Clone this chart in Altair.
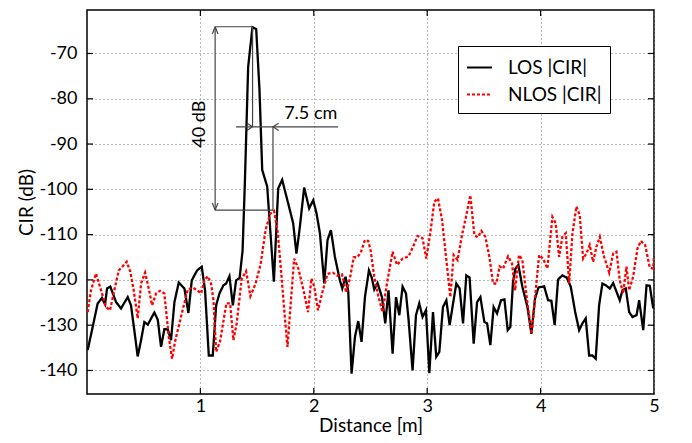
import altair as alt
import pandas as pd

# ---------------- data ----------------
series_names = ["LOS |CIR|", "NLOS |CIR|"]
series_colors = ["black", "red"]

los_d = [0.006, 0.050, 0.094, 0.132, 0.159, 0.177, 0.206, 0.256, 0.300, 0.359, 0.388, 0.417,
         0.447, 0.477, 0.506, 0.536, 0.594, 0.624, 0.653, 0.682, 0.712, 0.741, 0.771, 0.809,
         0.859, 0.894, 0.924, 0.971, 1.012, 1.041, 1.074, 1.109, 1.139, 1.168, 1.203, 1.227,
         1.256, 1.286, 1.315, 1.346, 1.372, 1.392, 1.421, 1.459, 1.492, 1.521, 1.545, 1.589,
         1.618, 1.648, 1.686, 1.721, 1.774, 1.818, 1.847, 1.877, 1.915, 1.959, 1.995, 2.024,
         2.054, 2.092, 2.121, 2.151, 2.186, 2.230, 2.251, 2.280, 2.304, 2.333, 2.363, 2.392,
         2.421, 2.451, 2.486, 2.511, 2.533, 2.562, 2.601, 2.630, 2.659, 2.695, 2.725, 2.754,
         2.783, 2.813, 2.836, 2.871, 2.901, 2.930, 2.959, 2.989, 3.019, 3.051, 3.080, 3.107,
         3.139, 3.169, 3.198, 3.228, 3.257, 3.286, 3.316, 3.345, 3.374, 3.410, 3.440, 3.469,
         3.504, 3.528, 3.557, 3.586, 3.616, 3.651, 3.681, 3.710, 3.733, 3.757, 3.778, 3.804,
         3.839, 3.884, 3.919, 3.951, 3.981, 4.031, 4.066, 4.095, 4.124, 4.154, 4.192, 4.230,
         4.266, 4.305, 4.340, 4.369, 4.398, 4.428, 4.457, 4.486, 4.516, 4.545, 4.575, 4.610,
         4.640, 4.669, 4.698, 4.722, 4.751, 4.781, 4.810, 4.846, 4.869, 4.905, 4.934, 4.963,
         4.993]
los_v = [-135.5, -130.4, -125.2, -124.0, -125.4, -121.9, -121.5, -124.9, -126.3, -123.8, -125.6, -131.1,
         -136.9, -133.3, -129.3, -129.9, -127.2, -128.8, -134.8, -130.9, -130.9, -133.3, -124.9, -120.6,
         -121.9, -127.3, -120.1, -117.9, -117.1, -122.3, -136.7, -136.7, -125.6, -123.0, -121.2, -120.8,
         -119.2, -125.6, -120.1, -119.6, -113.5, -98.7, -73.0, -64.2, -64.6, -78.0, -95.7, -99.4,
         -109.7, -120.4, -99.8, -97.9, -103.1, -107.5, -114.2, -108.3, -99.6, -104.2, -102.4, -105.3,
         -109.7, -120.8, -111.2, -109.0, -114.9, -120.1, -121.9, -119.3, -122.6, -140.7, -132.6, -129.1,
         -133.7, -123.8, -117.9, -119.5, -122.1, -120.7, -123.8, -129.6, -122.3, -136.3, -123.8, -127.8,
         -121.5, -123.0, -128.9, -140.0, -127.8, -125.2, -128.2, -126.7, -140.6, -127.1, -137.0, -135.9,
         -126.0, -124.5, -130.0, -125.2, -120.8, -121.9, -129.6, -119.0, -119.5, -134.1, -124.9, -123.8,
         -129.3, -129.6, -134.4, -126.0, -127.4, -124.5, -124.3, -131.1, -130.4, -120.4, -117.5, -116.7,
         -121.5, -126.0, -131.9, -124.1, -121.7, -121.4, -124.5, -124.6, -130.0, -119.9, -119.0, -119.5,
         -121.5, -127.1, -131.1, -129.6, -128.5, -136.7, -136.7, -137.4, -125.6, -120.8, -121.2, -121.9,
         -120.7, -122.6, -124.5, -122.3, -121.9, -127.1, -128.2, -127.8, -124.5, -131.1, -121.2, -121.3,
         -126.3]

nlos_d = [0.006, 0.035, 0.079, 0.124, 0.168, 0.203, 0.241, 0.280, 0.315, 0.350, 0.382, 0.412,
          0.447, 0.477, 0.512, 0.541, 0.574, 0.609, 0.644, 0.682, 0.721, 0.750, 0.779, 0.815,
          0.850, 0.889, 0.933, 0.971, 1.006, 1.035, 1.065, 1.094, 1.115, 1.139, 1.174, 1.229,
          1.262, 1.291, 1.320, 1.364, 1.403, 1.441, 1.487, 1.531, 1.575, 1.615, 1.650, 1.683,
          1.717, 1.743, 1.768, 1.792, 1.827, 1.864, 1.912, 1.949, 1.979, 2.004, 2.037, 2.080,
          2.121, 2.168, 2.209, 2.249, 2.286, 2.320, 2.352, 2.383, 2.414, 2.451, 2.480, 2.502,
          2.533, 2.571, 2.606, 2.645, 2.695, 2.734, 2.783, 2.836, 2.875, 2.915, 2.959, 2.992,
          3.027, 3.063, 3.095, 3.131, 3.166, 3.204, 3.233, 3.268, 3.307, 3.342, 3.380, 3.416,
          3.445, 3.478, 3.513, 3.548, 3.581, 3.610, 3.639, 3.669, 3.713, 3.748, 3.775, 3.810,
          3.839, 3.884, 3.921, 3.957, 3.987, 4.022, 4.060, 4.104, 4.133, 4.163, 4.192, 4.222,
          4.252, 4.281, 4.316, 4.345, 4.375, 4.404, 4.433, 4.463, 4.492, 4.522, 4.560, 4.605,
          4.640, 4.669, 4.698, 4.728, 4.757, 4.781, 4.816, 4.854, 4.884, 4.922, 4.963, 4.993,
          5.000]
nlos_v = [-127.1, -122.3, -118.6, -122.3, -126.0, -126.7, -122.3, -117.9, -117.0, -116.0, -118.2, -122.3,
          -128.5, -120.8, -118.4, -121.5, -125.6, -123.0, -122.4, -123.0, -132.6, -137.4, -133.3, -129.6,
          -126.0, -122.1, -121.7, -122.3, -123.0, -120.1, -119.2, -120.8, -124.5, -135.9, -133.5, -125.2,
          -125.2, -133.3, -129.6, -119.8, -118.1, -123.6, -120.8, -116.5, -109.0, -105.4, -104.8, -109.7,
          -119.7, -127.8, -134.8, -126.7, -115.3, -117.5, -122.6, -127.1, -119.7, -121.5, -126.7, -122.3,
          -118.7, -118.4, -119.1, -118.8, -122.8, -119.5, -115.0, -115.0, -114.0, -111.2, -111.4, -113.6,
          -119.3, -123.8, -127.1, -120.8, -113.8, -116.7, -115.3, -114.8, -112.7, -110.3, -110.8, -115.3,
          -109.7, -102.7, -102.0, -106.8, -114.9, -123.8, -114.5, -115.6, -110.1, -106.1, -101.3, -110.1,
          -110.6, -109.2, -110.5, -114.9, -120.8, -120.8, -117.0, -117.5, -114.8, -116.4, -122.3, -114.5,
          -115.6, -125.2, -131.9, -122.3, -114.5, -115.3, -117.5, -106.1, -107.5, -114.9, -110.5, -109.7,
          -120.8, -109.7, -103.8, -105.7, -115.3, -114.2, -112.3, -116.0, -112.7, -110.5, -114.9, -118.4,
          -114.2, -113.8, -120.1, -123.0, -117.1, -122.3, -119.3, -113.1, -111.4, -112.3, -117.3, -117.5,
          -114.8]

x_ticks = [1, 2, 3, 4, 5]
y_ticks = [-140, -130, -120, -110, -100, -90, -80, -70]
x_domain = [0, 5]
y_domain = [-145.2, -60.4]

# annotation segments (dimension lines and arrowheads) in data units
ann_x1 = [1.13, 1.13, 1.13, 1.315, 1.46, 1.64, 1.105, 1.155, 1.105, 1.155, 1.41, 1.41, 1.69, 1.69]
ann_x2 = [1.13, 1.465, 1.64, 2.215, 1.46, 1.64, 1.13, 1.13, 1.13, 1.13, 1.46, 1.46, 1.64, 1.64]
ann_y1 = [-64.1, -64.1, -104.6, -86.2, -64.1, -86.2, -65.7, -65.7, -103.0, -103.0, -85.4, -87.0, -85.4, -87.0]
ann_y2 = [-104.6, -64.1, -104.6, -86.2, -86.2, -104.6, -64.1, -64.1, -104.6, -104.6, -86.2, -86.2, -86.2, -86.2]

label_text = ["40 dB", "7.5 cm"]
label_d = [1.0, 1.973]
label_v = [-85.6, -83.4]
label_angle = [270, 0]

FONT = "Lato"

# ---------------- tables ----------------
df = pd.concat([
    pd.DataFrame({"d": los_d, "v": los_v, "s": series_names[0]}),
    pd.DataFrame({"d": nlos_d, "v": nlos_v, "s": series_names[1]}),
], ignore_index=True)

ann = pd.DataFrame({"d": ann_x1, "d2": ann_x2, "v": ann_y1, "v2": ann_y2})
labels = pd.DataFrame({"t": label_text, "d": label_d, "v": label_v, "a": label_angle})

tick_dx = 6 / 113.3
tick_dy = 6 / 4.52
ticks = pd.DataFrame(
    [{"d": x_domain[0], "d2": x_domain[0] + tick_dx, "v": t, "v2": t} for t in y_ticks]
    + [{"d": x_domain[1] - tick_dx, "d2": x_domain[1], "v": t, "v2": t} for t in y_ticks]
    + [{"d": t, "d2": t, "v": y_domain[0], "v2": y_domain[0] + tick_dy} for t in x_ticks[:-1]]
    + [{"d": t, "d2": t, "v": y_domain[1] - tick_dy, "v2": y_domain[1]} for t in x_ticks[:-1]]
)

xs = alt.Scale(domain=x_domain, nice=False, zero=False)
ys = alt.Scale(domain=y_domain, nice=False, zero=False)
x_axis = alt.Axis(values=x_ticks, title="Distance  [m]", labelPadding=3, titlePadding=1,
                  labelFlush=False, titleFontSize=19)
y_axis = alt.Axis(values=y_ticks, title="CIR (dB)", labelPadding=10, titlePadding=2,
                  labelExpr="'' + datum.value", titleFontSize=19)


def X():
    return alt.X("d:Q", scale=xs, axis=x_axis, title="Distance  [m]")


def Y():
    return alt.Y("v:Q", scale=ys, axis=y_axis, title="CIR (dB)")


lines = alt.Chart(df).mark_line(strokeWidth=2.3, clip=True).encode(
    x=X(), y=Y(),
    color=alt.Color("s:N", scale=alt.Scale(domain=series_names, range=series_colors),
                    legend=alt.Legend(title=None)),
    strokeDash=alt.StrokeDash("s:N", scale=alt.Scale(domain=series_names, range=[[1, 0], [3, 2]]),
                              legend=alt.Legend(title=None)),
    order=alt.Order("d:Q"),
)

tick_layer = alt.Chart(ticks).mark_rule(color="black", strokeWidth=1.2).encode(
    x=X(), x2="d2:Q", y=Y(), y2="v2:Q",
)

ann_layer = alt.Chart(ann).mark_rule(color="#444444", strokeWidth=1.2).encode(
    x=X(), x2="d2:Q", y=Y(), y2="v2:Q",
)

text_vert = alt.Chart(labels[labels.a == 270]).mark_text(
    angle=270, fontSize=18, font=FONT, color="black", align="center", baseline="middle"
).encode(x=X(), y=Y(), text="t:N")

text_horiz = alt.Chart(labels[labels.a == 0]).mark_text(
    fontSize=18, font=FONT, color="black", align="center", baseline="middle"
).encode(x=X(), y=Y(), text="t:N")

chart = alt.layer(lines, ann_layer, text_vert, text_horiz, tick_layer).properties(
    width=567, height=384,
    autosize=alt.AutoSizeParams(type="none"),
    padding={"left": 79, "top": 2, "right": 28, "bottom": 41},
).configure_view(
    stroke="black", strokeWidth=1.5
).configure_axis(
    grid=True, gridDash=[1, 3], gridColor="#777777", gridWidth=1,
    ticks=False, domain=False,
    labelFontSize=18, titleFontSize=19, labelFont=FONT, titleFont=FONT,
    labelColor="black", titleColor="black", titleFontWeight="normal",
).configure_legend(
    orient="none", legendX=371, legendY=36,
    strokeColor="black", fillColor="white", padding=8,
    symbolType="stroke", symbolSize=625, symbolStrokeWidth=2,
    labelFontSize=19, labelFont=FONT, labelColor="black", labelOffset=15, rowPadding=3,
)

chart.save("out.html", embed_options={"renderer": "svg", "actions": False})
